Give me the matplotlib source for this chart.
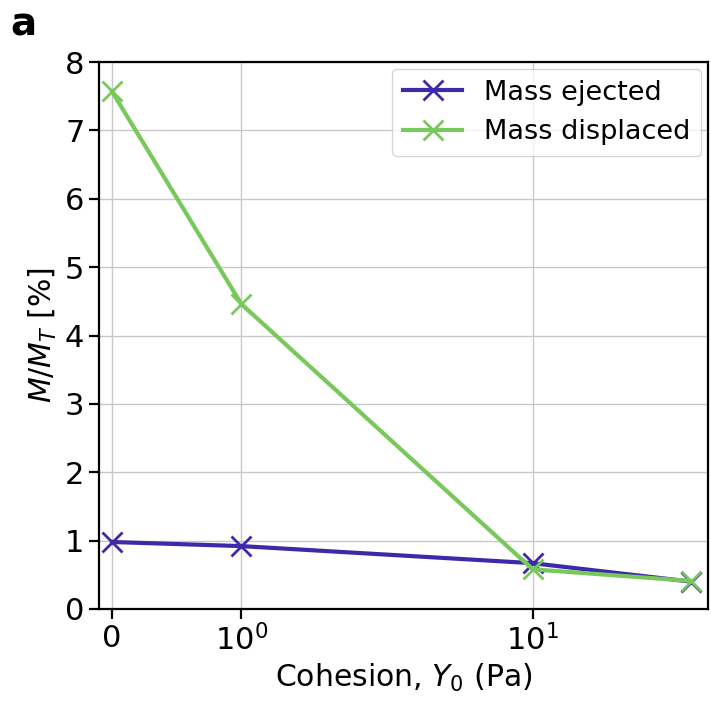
"""Mass ejected / displaced vs cohesion"""
import numpy as np
import matplotlib
matplotlib.use('Agg')
import matplotlib.pyplot as plt
from matplotlib.ticker import NullLocator

# Data
cohesion = [0, 1, 10, 35]
mass_ejected = [0.98, 0.92, 0.67, 0.40]
mass_displaced = [7.57, 4.46, 0.58, 0.41]
xtick_vals = [0, 1, 10]
xtick_labels = ['0', r'$10^0$', r'$10^1$']

blue = '#3d2aa8'
green = '#78c85b'

plt.rcParams['font.size'] = 22

fig = plt.figure(figsize=(7.11, 7.06), dpi=100)
fig.subplots_adjust(left=99/711, right=708/711, top=1-62/706, bottom=1-609/706)
ax = fig.add_subplot(111)

ax.plot(cohesion, mass_ejected, color=blue, marker='x', markersize=14,
        markeredgewidth=2, linewidth=3, label='Mass ejected')
ax.plot(cohesion, mass_displaced, color=green, marker='x', markersize=14,
        markeredgewidth=2, linewidth=3, label='Mass displaced')

ax.set_xscale('symlog', linthresh=1, linscale=0.4)
ax.set_xlim(-0.1, 40)
ax.set_ylim(0, 8)
ax.set_xticks(xtick_vals)
ax.set_xticklabels(xtick_labels)
ax.xaxis.set_minor_locator(NullLocator())
ax.set_yticks(range(0, 9))

ax.grid(True, color='#c8c8c8', linewidth=1)
ax.set_axisbelow(True)
for s in ax.spines.values():
    s.set_linewidth(1.6)
ax.tick_params(width=1.6, length=7, labelsize=22)

ax.set_xlabel(r'Cohesion, $Y_0$ (Pa)', fontsize=21.5)
ax.set_ylabel(r'$M/M_T$ [%]', fontsize=21.5)
ax.legend(loc='upper right', fontsize=19.5, handlelength=2.2, borderaxespad=0.25)

fig.text(10/711, 1-35/706, 'a', fontsize=28, fontweight='bold')

plt.savefig('out.png', dpi=100)
plt.close()
